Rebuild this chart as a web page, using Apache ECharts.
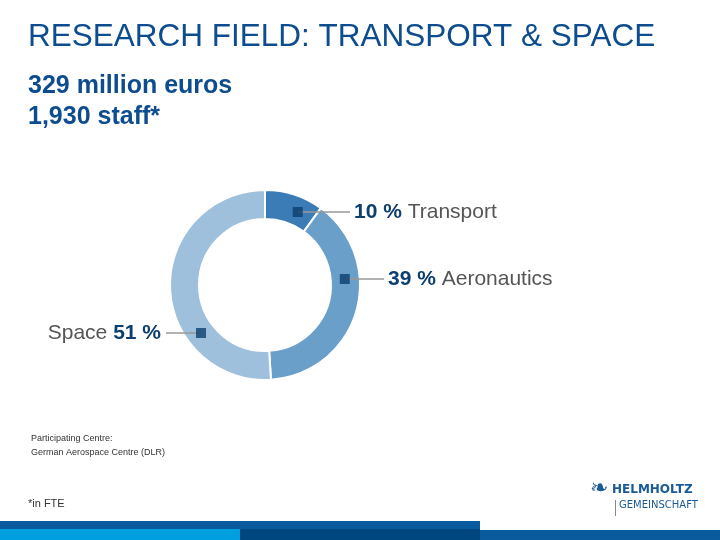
<!DOCTYPE html><html><head><meta charset="utf-8">
<script src="https://cdn.jsdelivr.net/npm/echarts@6/dist/echarts.min.js"></script>
<style>html,body{margin:0;padding:0;background:#fff}#c{width:720px;height:540px}</style></head><body><div id="c"></div>
<script>
const categories = ['Transport', 'Aeronautics', 'Space'];
const values = [10, 39, 51];
const colors = ['#3b7bb6', '#6a9fca', '#9fc0dd'];
const labelPos = [[354, 212, 'left'], [388, 279, 'left'], [161, 333, 'right']];

const chart = echarts.init(document.getElementById('c'));
const CX = 265, CY = 285, RM = 80;
const markerAng = labelPos.map(([x, y, a]) => {
  const t = Math.acos(-(y - CY) / RM) * 180 / Math.PI;
  return a === 'left' ? t : 360 - t;
});
const markerXY = markerAng.map(t => [CX + RM * Math.sin(t * Math.PI / 180), CY - RM * Math.cos(t * Math.PI / 180)]);
const font = 'Liberation Sans, Arial, sans-serif';
const leaderLines = labelPos.map(([x, y, a], i) => ({
  type: 'line', z: 5,
  shape: { x1: markerXY[i][0], y1: y, x2: a === 'left' ? x - 4 : x + 5, y2: y },
  style: { stroke: '#999', lineWidth: 1.5 }
}));
chart.setOption({
  animation: false,
  polar: { center: [CX, CY], radius: [0, 95] },
  angleAxis: { type: 'value', min: 0, max: 360, startAngle: 90, clockwise: true, show: false },
  radiusAxis: { type: 'value', min: 0, max: 95, show: false },
  graphic: [
    { type: 'text', left: 28, top: 21, style: { text: 'RESEARCH FIELD: TRANSPORT & SPACE', fill: '#0d4d8f', font: '31.5px ' + font } },
    { type: 'text', left: 28, top: 71, style: { text: '329 million euros\n1,930 staff*', fill: '#0d4d8f', font: 'bold 25px ' + font, lineHeight: 31 } },
    { type: 'text', left: 31, top: 432, style: { text: 'Participating Centre:\nGerman Aerospace Centre (DLR)', fill: '#333', font: '9px ' + font, lineHeight: 14 } },
    { type: 'text', left: 28, top: 498, style: { text: '*in FTE', fill: '#333', font: '11px ' + font } },
    { type: 'text', left: 612, top: 484, style: { text: 'HELMHOLTZ', fill: '#1a5a96', font: 'bold 12px DejaVu Sans', } },
    { type: 'text', left: 619, top: 500, style: { text: 'GEMEINSCHAFT', fill: '#1a5a96', font: '10px DejaVu Sans' } },
    { type: 'rect', shape: { x: 615, y: 500, width: 1, height: 16 }, style: { fill: '#888' } },
    { type: 'text', left: 590, top: 478, style: { text: '❧', fill: '#1a5a96', font: 'bold 22px DejaVu Sans' } },
    { type: 'rect', shape: { x: 0, y: 521, width: 480, height: 8 }, style: { fill: '#0a5a9e' } },
    { type: 'rect', shape: { x: 0, y: 529, width: 240, height: 11 }, style: { fill: '#00a0e0' } },
    { type: 'rect', shape: { x: 240, y: 529, width: 240, height: 11 }, style: { fill: '#00467f' } },
    { type: 'rect', shape: { x: 480, y: 530, width: 240, height: 10 }, style: { fill: '#0a5a9e' } }
  ].concat(leaderLines),
  series: [
    { type: 'pie', center: [CX, CY], radius: [66, 95], startAngle: 90, clockwise: true,
      label: { show: false }, labelLine: { show: false }, silent: true,
      itemStyle: { borderColor: '#fff', borderWidth: 2 },
      data: categories.map((c, i) => ({ name: c, value: values[i], itemStyle: { color: colors[i] } })) },
    { type: 'pie', center: [CX, CY], radius: [0, RM], startAngle: 90, clockwise: true, silent: true,
      itemStyle: { color: 'rgba(0,0,0,0)' },
      label: { show: true, fontFamily: font, fontSize: 21,
        formatter: p => p.dataIndex === 2 ? '{n|' + p.name + '} {v|' + p.value + ' %}' : '{v|' + p.value + ' %} {n|' + p.name + '}',
        rich: { v: { fontWeight: 'bold', color: '#0d3f6e', fontSize: 21, fontFamily: font }, n: { color: '#555', fontSize: 21, fontFamily: font } } },
      labelLine: { show: false },
      labelLayout: p => {
        const [x, y, a] = labelPos[p.dataIndex];
        return { x, y, align: a, verticalAlign: 'middle' };
      },
      data: categories.map((c, i) => ({ name: c, value: values[i] })) },
    { type: 'scatter', coordinateSystem: 'polar', symbol: 'rect', symbolSize: 10, z: 10,
      itemStyle: { color: '#0d3f6e' }, data: markerAng.map(t => [RM, t]) }
  ]
});
</script></body></html>
